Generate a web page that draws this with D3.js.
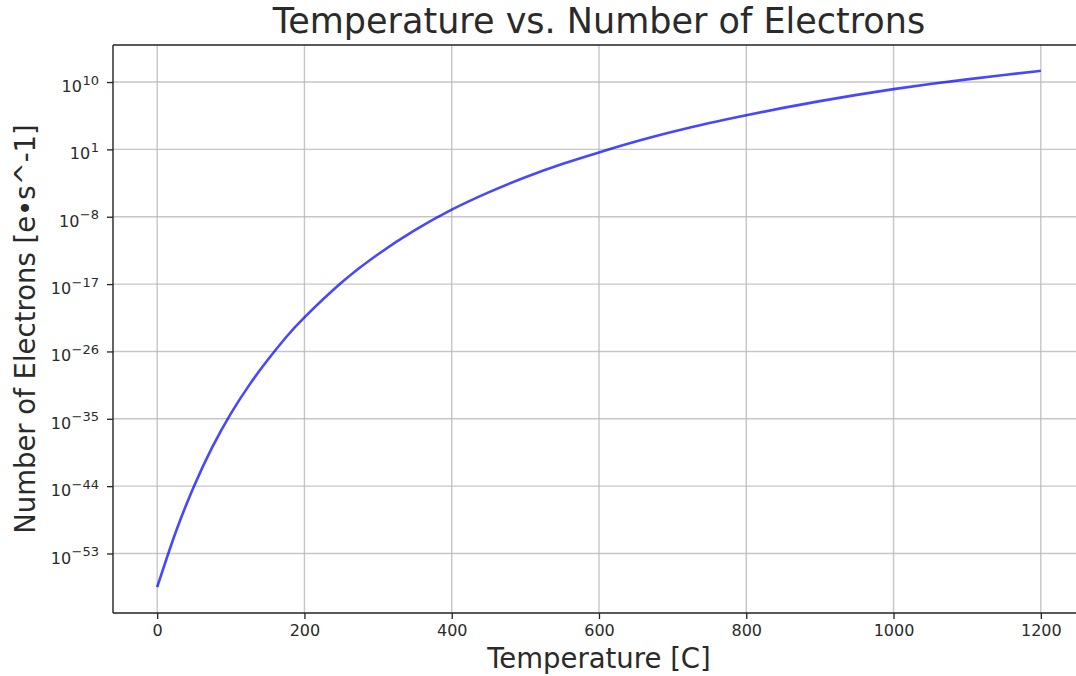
<!DOCTYPE html>
<html>
<head>
<meta charset="utf-8">
<script src="https://cdn.jsdelivr.net/npm/d3@7"></script>
<style>
  html, body { margin: 0; padding: 0; background: #fff; }
  svg { display: block; font-family: "DejaVu Sans", sans-serif; }
</style>
</head>
<body>
<svg id="chart" width="1076" height="676"></svg>
<script>
// Temperature in °C
const temperatures = [0, 25, 50, 75, 100, 125, 150, 175, 200, 250, 300, 350, 400, 450, 500,
                      550, 600, 650, 700, 750, 800, 850, 900, 950, 1000, 1050, 1100, 1150, 1200];
// Emitted electrons per second
const electrons = [3.16e-58, 6.3e-51, 1.0e-44, 1.78e-39, 5.0e-35, 3.16e-31, 7.08e-28,
                   7.94e-25, 3.55e-22, 1.48e-17, 9.77e-14, 1.58e-10, 8.71e-8, 1.78e-5,
                   1.91e-3, 0.112, 3.98, 112, 2240, 33900, 3.72e5, 3.55e6, 2.82e7, 1.91e8,
                   1.12e9, 5.37e9, 2.29e10, 8.91e10, 3.16e11];
const xTicks = [0, 200, 400, 600, 800, 1000, 1200];
const yTickExponents = [10, 1, -8, -17, -26, -35, -44, -53];

const titleText = "Temperature vs. Number of Electrons";
const xLabel = "Temperature [C]";
const yLabel = "Number of Electrons [e\u2022s^-1]";

const svg = d3.select("#chart");
const margin = { left: 113, top: 45, right: 1085, bottom: 613 };

// x: 5% padding on each side of the data range
const xExtent = d3.extent(temperatures);
const xPad = (xExtent[1] - xExtent[0]) * 0.05;
const x = d3.scaleLinear()
  .domain([xExtent[0] - xPad, xExtent[1] + xPad])
  .range([margin.left, margin.right]);

// y: log scale, 5% padding in decades
const logExtent = d3.extent(electrons, d => Math.log10(d));
const logPad = (logExtent[1] - logExtent[0]) * 0.05;
const y = d3.scaleLog()
  .domain([Math.pow(10, logExtent[0] - logPad), Math.pow(10, logExtent[1] + logPad)])
  .range([margin.bottom, margin.top]);

const gridColor = "#b8b8b8";
const axisColor = "#222";
const textColor = "#2a2a2a";

const plot = svg.append("g");

// clip for the drawing area
svg.append("clipPath").attr("id", "plot-clip")
  .append("rect")
  .attr("x", margin.left).attr("y", margin.top)
  .attr("width", margin.right - margin.left)
  .attr("height", margin.bottom - margin.top);

// grid
const grid = plot.append("g").attr("clip-path", "url(#plot-clip)");
grid.selectAll("line.vg").data(xTicks).join("line")
  .attr("class", "vg")
  .attr("x1", d => x(d)).attr("x2", d => x(d))
  .attr("y1", margin.top).attr("y2", margin.bottom)
  .attr("stroke", gridColor).attr("stroke-width", 1.4).attr("stroke-opacity", 0.8);
grid.selectAll("line.hg").data(yTickExponents).join("line")
  .attr("class", "hg")
  .attr("x1", margin.left).attr("x2", margin.right)
  .attr("y1", d => y(Math.pow(10, d))).attr("y2", d => y(Math.pow(10, d)))
  .attr("stroke", gridColor).attr("stroke-width", 1.4).attr("stroke-opacity", 0.8);

// curve
const line = d3.line()
  .x((d, i) => x(temperatures[i]))
  .y(d => y(d))
  .curve(d3.curveNatural);
plot.append("path")
  .datum(electrons)
  .attr("clip-path", "url(#plot-clip)")
  .attr("d", line)
  .attr("fill", "none")
  .attr("stroke", "#0000ff")
  .attr("stroke-opacity", 0.72)
  .attr("stroke-width", 2.6);

// x axis
const xAxis = d3.axisBottom(x).tickValues(xTicks).tickSize(6).tickPadding(6)
  .tickFormat(d3.format("d"));
const gx = svg.append("g").attr("transform", `translate(0,${margin.bottom})`).call(xAxis);
gx.select(".domain").remove();
gx.selectAll(".tick line").attr("stroke", axisColor).attr("stroke-width", 1.3);
gx.selectAll(".tick text").attr("fill", textColor)
  .style("font-size", "16px").style("font-family", "DejaVu Sans");

// y axis with 10^n labels
const yAxis = d3.axisLeft(y).tickValues(yTickExponents.map(e => Math.pow(10, e)))
  .tickSize(6).tickFormat("");
const gy = svg.append("g").attr("transform", `translate(${margin.left},0)`)
  .call(yAxis)
  .attr("font-size", null).attr("font-family", null);
gy.select(".domain").remove();
gy.selectAll(".tick line").attr("stroke", axisColor).attr("stroke-width", 1.3);
gy.selectAll(".tick").each(function(d) {
  const e = Math.round(Math.log10(d));
  const t = d3.select(this).append("text")
    .attr("x", -14).attr("y", 9.5)
    .attr("text-anchor", "end")
    .attr("fill", textColor)
    .attr("font-family", "DejaVu Sans")
    .attr("font-size", 16)
    .style("font-size", "16px");
  t.append("tspan").text("10");
  t.append("tspan")
    .attr("dx", 0.5)
    .attr("dy", -7.5)
    .attr("font-size", 13)
    .style("font-size", "13px")
    .text(String(e).replace("-", "\u2212"));
});

// spines (left, top, bottom; right edge lies past the canvas)
const spines = svg.append("g").attr("stroke", axisColor).attr("stroke-width", 1.4).attr("fill", "none");
spines.append("line").attr("x1", margin.left).attr("x2", margin.left)
  .attr("y1", margin.top).attr("y2", margin.bottom);
spines.append("line").attr("x1", margin.left).attr("x2", margin.right)
  .attr("y1", margin.top).attr("y2", margin.top);
spines.append("line").attr("x1", margin.left).attr("x2", margin.right)
  .attr("y1", margin.bottom).attr("y2", margin.bottom);
spines.append("line").attr("x1", margin.right).attr("x2", margin.right)
  .attr("y1", margin.top).attr("y2", margin.bottom);

// title and axis labels
svg.append("text")
  .attr("x", (margin.left + margin.right) / 2).attr("y", 33)
  .attr("text-anchor", "middle").attr("fill", textColor)
  .style("font-size", "35px")
  .text(titleText);

svg.append("text")
  .attr("x", (margin.left + margin.right) / 2).attr("y", 668)
  .attr("text-anchor", "middle").attr("fill", textColor)
  .style("font-size", "27.5px")
  .text(xLabel);

svg.append("text")
  .attr("transform", `translate(35,${(margin.top + margin.bottom) / 2}) rotate(-90)`)
  .attr("text-anchor", "middle").attr("fill", textColor)
  .style("font-size", "27.5px")
  .text(yLabel);
</script>
</body>
</html>
